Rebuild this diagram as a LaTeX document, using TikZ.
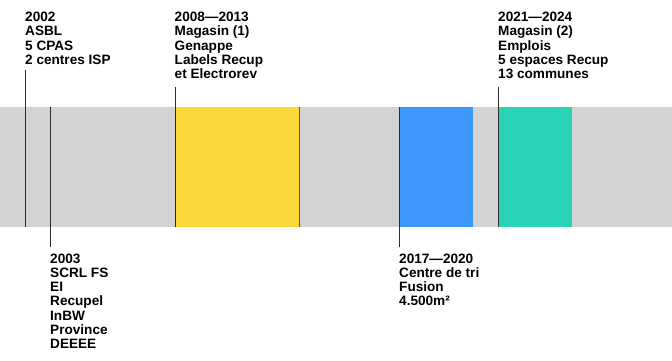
\documentclass[tikz,border=0pt]{standalone}
\usepackage{fontspec}
\setmainfont{Liberation Sans}
\definecolor{bandgray}{HTML}{D3D3D3}
\definecolor{tyellow}{HTML}{FBD83A}
\definecolor{tblue}{HTML}{3D96FA}
\definecolor{tteal}{HTML}{29D3B5}
\definecolor{tline}{HTML}{2E2E2E}
\begin{document}
\begin{tikzpicture}[x=1pt,y=-1pt,
  lbl/.style={anchor=north west,inner sep=0pt,align=left,
    font=\fontsize{13.6}{14.2}\selectfont\bfseries,text=black},
  tick/.style={draw=tline,line width=1pt},
  period/.style={inner sep=0pt,outer sep=0pt,minimum height=119.5pt,anchor=north west}]
\useasboundingbox (0,0) rectangle (672,360);
% band
\fill[bandgray] (0,107) rectangle (672,226.5);
\node[period,fill=tyellow,minimum width=124pt] (p1) at (175,107) {};
\node[period,fill=tblue,minimum width=74pt] (p2) at (399,107) {};
\node[period,fill=tteal,minimum width=74pt] (p3) at (498,107) {};
% labels
\node[lbl] (t2002) at (25,12.0) {2002\\ASBL\\5 CPAS\\2 centres ISP};
\node[lbl] (t2008) at (174.5,12.0) {2008—2013\\Magasin (1)\\Genappe\\Labels Recup\\et Electrorev};
\node[lbl] (t2021) at (498,12.0) {2021—2024\\Magasin (2)\\Emplois\\5 espaces Recup\\13 communes};
\node[lbl] (t2003) at (50,253.6) {2003\\SCRL FS\\EI\\Recupel\\InBW\\Province\\DEEEE};
\node[lbl] (t2017) at (399,253.6) {2017—2020\\Centre de tri\\Fusion\\4.500m²};
% ticks
\coordinate (c2002a) at (25.5,70);
\coordinate (c2002b) at (25.5,226.5);
\coordinate (c2003a) at (50.5,107);
\coordinate (c2003b) at (50.5,246.5);
\coordinate (c2008a) at (175.5,87);
\coordinate (c2017b) at (399.5,246.5);
\coordinate (c2021a) at (498.5,87);
\draw[tick] (c2002a) -- (c2002b);
\draw[tick] (c2003a) -- (c2003b);
\draw[tick] (c2008a) -- (p1.south west -| c2008a);
\draw[tick] (p2.north west -| c2017b) -- (c2017b);
\draw[tick] (c2021a) -- (p3.south west -| c2021a);
\draw[draw=black!65,line width=1pt] ([xshift=0.5pt]p1.north east) -- ([xshift=0.5pt]p1.south east);
\end{tikzpicture}
\end{document}
